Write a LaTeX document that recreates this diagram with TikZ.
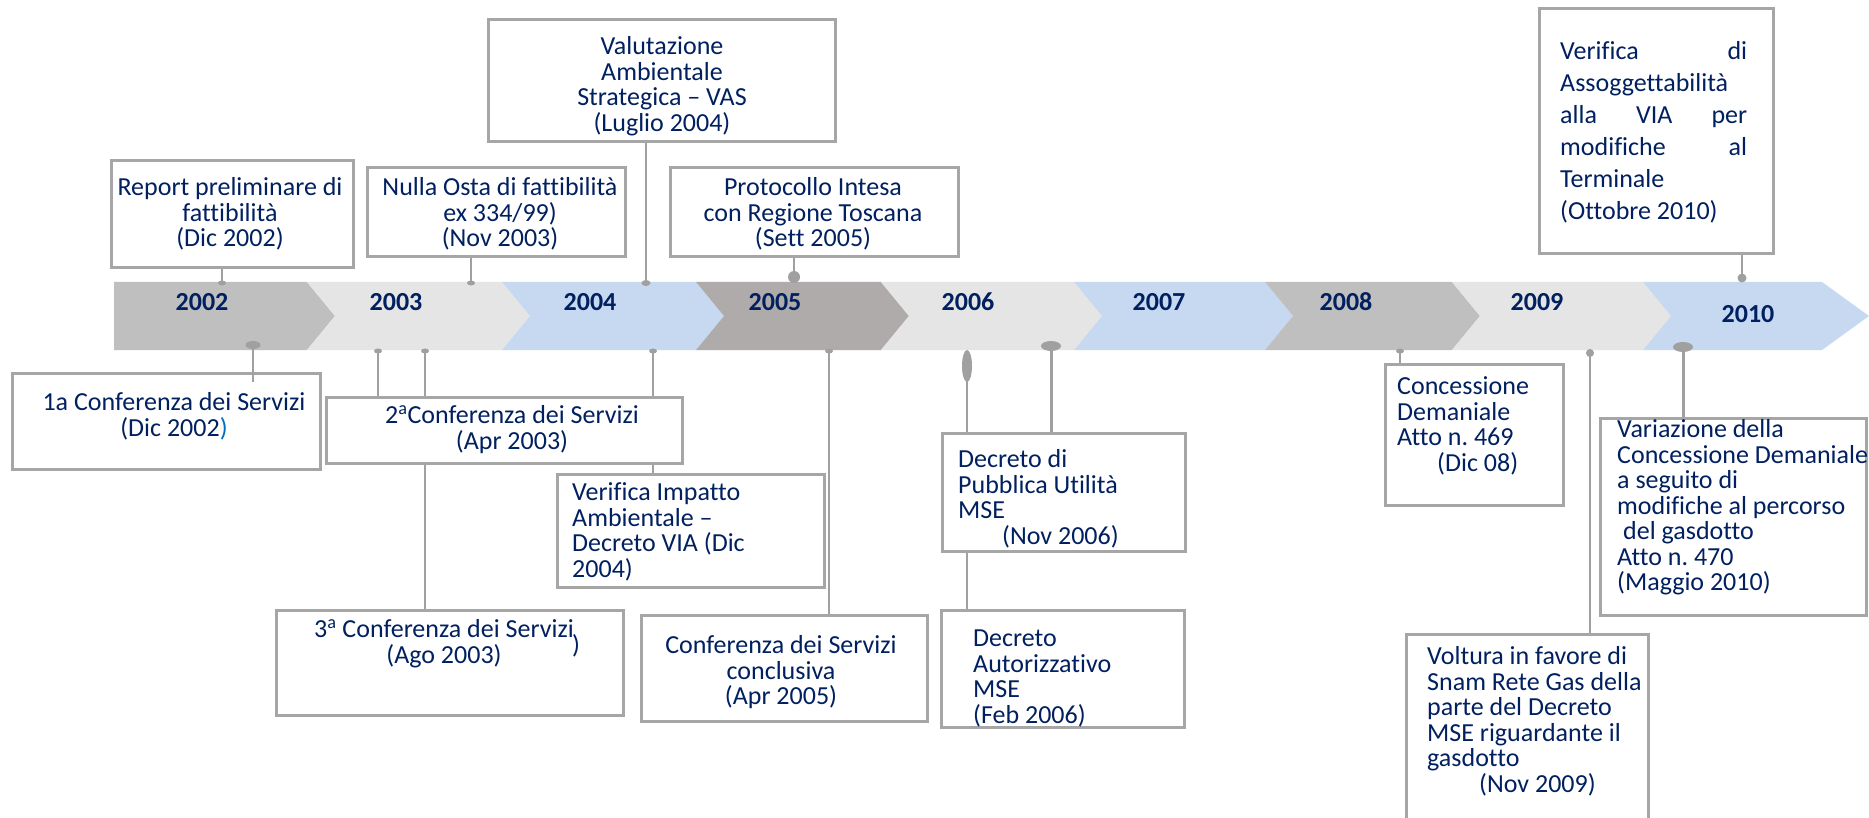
\documentclass[tikz,border=0pt]{standalone}
\usepackage{fontspec}
\setmainfont{Carlito}[Ligatures={NoCommon}]
\usetikzlibrary{shapes.geometric}
\frenchspacing
\definecolor{navy}{RGB}{0,32,96}
\definecolor{parblue}{RGB}{0,112,192}
\definecolor{lgray}{RGB}{160,160,160}
\definecolor{bgray}{RGB}{166,166,166}
\definecolor{cA}{RGB}{191,191,191}
\definecolor{cB}{RGB}{229,229,229}
\definecolor{cC}{RGB}{198,217,241}
\definecolor{cD}{RGB}{175,171,171}
\newcommand\bxfont{\fontsize{26}{25.5}\selectfont\lineskiplimit=-100pt\relax}
\newcommand\bxfontw{\fontsize{26}{32}\selectfont\lineskiplimit=-100pt\relax}
\newcommand\fstrut{\rule{0pt}{21pt}}
\newcommand\chevseg[3]{\fill[#3] (#1,282) -- (#2,282) -- ({#2+28},316) -- (#2,350) -- (#1,350) -- ({#1+28},316) -- cycle;}
\newcommand\tlbox[5]{\node[boxst, minimum width={#4-#2}, minimum height={#5-#3}] (#1) at ({(#2+#4)/2},{(#3+#5)/2}) {};}
\tikzset{
  boxst/.style={draw=bgray, line width=3pt, fill=white, inner sep=0pt},
  conn/.style={draw=lgray, line width=2.2pt},
  connw/.style={draw=lgray, line width=3pt},
  mk/.style={fill=lgray, draw=none, ellipse, inner sep=0pt},
  txt/.style={font=\bxfont, text=navy, inner sep=0pt, anchor=north, align=center},
  txl/.style={font=\bxfont, text=navy, inner sep=0pt, anchor=north west, align=left},
  yr/.style={font=\fontsize{26}{30}\selectfont\bfseries, text=navy, inner sep=0pt}
}
\begin{document}
\begin{tikzpicture}[x=1pt,y=-1pt]
\useasboundingbox (0,0) rectangle (1869,818);
\clip (0,0) rectangle (1869,818);
\fill[white] (0,0) rectangle (1869,818);
% band
\fill[cA] (114,282) -- (307,282) -- (335,316) -- (307,350) -- (114,350) -- cycle;
\chevseg{307}{502}{cB}
\chevseg{502}{696}{cC}
\chevseg{696}{881}{cD}
\chevseg{881}{1074}{cB}
\chevseg{1074}{1265}{cC}
\chevseg{1265}{1452}{cA}
\chevseg{1452}{1643}{cB}
\fill[cC] (1643,282) -- (1822,282) -- (1869,316) -- (1822,350) -- (1643,350) -- (1671,316) -- cycle;
% markers
\node[mk, minimum width=8, minimum height=5] (mrep) at (222,283) {};
\node[mk, minimum width=8, minimum height=5] (mnul) at (471,283) {};
\node[mk, minimum width=9, minimum height=6] (mvas) at (646,283) {};
\node[mk, minimum width=12, minimum height=12] (mpro) at (794,277) {};
\node[mk, minimum width=9, minimum height=9] (mver) at (1742,278) {};
\node[mk, minimum width=15, minimum height=8] (mc1) at (253,345) {};
\node[mk, minimum width=8, minimum height=5] (mc2) at (378,351) {};
\node[mk, minimum width=8, minimum height=5] (mc3) at (425,351) {};
\node[mk, minimum width=8, minimum height=5] (mvim) at (653,351) {};
\node[mk, minimum width=8, minimum height=5] (mccl) at (829,351) {};
\node[mk, minimum width=10, minimum height=32] (mdau) at (967,366) {};
\node[mk, minimum width=20, minimum height=10] (mdpu) at (1051,346) {};
\node[mk, minimum width=8, minimum height=5] (mcon) at (1400,351) {};
\node[mk, minimum width=8, minimum height=8] (mvol) at (1590,353) {};
\node[mk, minimum width=20, minimum height=10] (mvar) at (1683,347) {};
% boxes
\tlbox{rep}{111}{161}{353}{268}
\tlbox{nul}{367}{168}{625}{257}
\tlbox{vas}{488}{20}{835}{142}
\tlbox{pro}{670}{168}{958}{257}
\tlbox{ver}{1539}{9}{1773}{254}
\tlbox{c3}{276}{610}{623}{715}
\tlbox{ccl}{641}{615}{927}{721}
\tlbox{dau}{941}{610}{1184}{727}
\tlbox{vim}{557}{474}{824}{587}
\tlbox{con}{1385}{364}{1563}{505}
\tlbox{var}{1600}{418}{1866}{615}
\tlbox{vol}{1406}{634}{1648}{840}
% connectors passing behind boxes
\draw[conn] (mc3.center) -- (mc3 |- c3.north);
\draw[conn] (mvim.center) -- (mvim |- vim.north);
\draw[conn] (mdau.center) -- (mdau |- dau.north);
\tlbox{c2}{326}{397}{682}{463}
\tlbox{dpu}{942}{433}{1185}{551}
\tlbox{c1}{12}{373}{320}{469}
% other connectors
\draw[conn] (mrep.center) -- (mrep |- rep.south);
\draw[conn] (mnul.center) -- (mnul |- nul.south);
\draw[conn] (mvas.center) -- (mvas |- vas.south);
\draw[conn] (mpro.center) -- (mpro |- pro.south);
\draw[conn] (mver.center) -- (mver |- ver.south);
\draw[conn] (mc1.center) -- ([yshift=-10pt]mc1 |- c1.north);
\draw[conn] (mc2.center) -- (mc2 |- c2.north);
\draw[conn] (mccl.center) -- (mccl |- ccl.north);
\draw[connw] (mdpu.center) -- (mdpu |- dpu.north);
\draw[conn] (mcon.center) -- (mcon |- con.north);
\draw[conn] (mvol.center) -- (mvol |- vol.north);
\draw[connw] (mvar.center) -- (mvar |- var.north);
% texts
\node[txt] (rept) at (230,174.5) {\fstrut Report preliminare di\\fattibilità\\(Dic 2002)};
\node[txt] (nult) at (500,174.5) {\fstrut Nulla Osta di fattibilità\\ex 334/99)\\(Nov 2003)};
\node[txt] (vast) at (662,33.5) {\fstrut Valutazione\\Ambientale\\Strategica – VAS\\(Luglio 2004)};
\node[txt] (prot) at (813,174.5) {\fstrut Protocollo Intesa\\con Regione Toscana\\(Sett 2005)};
\node[txl, font=\bxfontw] (vert) at (1560,38.5) {\fstrut\hbox to 187pt{Verifica\hfill di}\\Assoggettabilità\\\hbox to 187pt{alla\hfill VIA\hfill per}\\\hbox to 187pt{modifiche\hfill al}\\Terminale\\(Ottobre 2010)};
\node[txt] (c1t) at (174,389.5) {\fstrut 1a Conferenza dei Servizi\\(Dic 2002{\color{parblue})}};
\node[txt] (c2t) at (512,402.5) {\fstrut 2\textsuperscript{a}Conferenza dei Servizi\\(Apr 2003)};
\node[txl] (vimt) at (572,479.5) {\fstrut Verifica Impatto\\Ambientale –\\Decreto VIA (Dic\\2004)};
\node[txt] (c3t) at (444,616.5) {\fstrut 3\textsuperscript{a} Conferenza dei Servizi\\(Ago 2003)};
\node[txt, anchor=center] (c3p) at (576,646) {)};
\node[txt] (cclt) at (781,632.5) {\fstrut Conferenza dei Servizi\\conclusiva\\(Apr 2005)};
\node[txl] (dput) at (958,446.5) {\fstrut Decreto di\\Pubblica Utilità\\MSE\\\hspace*{44pt}(Nov 2006)};
\node[txl] (daut) at (973,625.5) {\fstrut Decreto\\Autorizzativo\\MSE\\(Feb 2006)};
\node[txl] (cont) at (1397,373.5) {\fstrut Concessione\\Demaniale\\Atto n. 469\\\hspace*{40pt}(Dic 08)};
\node[txl] (vart) at (1617,416.5) {\fstrut Variazione della\\Concessione Demaniale\\a seguito di\\modifiche al percorso\\\hspace*{6pt}del gasdotto\\Atto n. 470\\(Maggio 2010)};
\node[txl] (volt) at (1427,643.5) {\fstrut Voltura in favore di\\Snam Rete Gas della\\parte del Decreto\\MSE riguardante il\\gasdotto\\\hspace*{52pt}(Nov 2009)};
% years
\node[yr] (y2002) at (202,302) {2002};
\node[yr] (y2003) at (396,302) {2003};
\node[yr] (y2004) at (590,302) {2004};
\node[yr] (y2005) at (775,302) {2005};
\node[yr] (y2006) at (968,302) {2006};
\node[yr] (y2007) at (1159,302) {2007};
\node[yr] (y2008) at (1346,302) {2008};
\node[yr] (y2009) at (1537,302) {2009};
\node[yr] (y2010) at (1748,314) {2010};
\end{tikzpicture}
\end{document}
